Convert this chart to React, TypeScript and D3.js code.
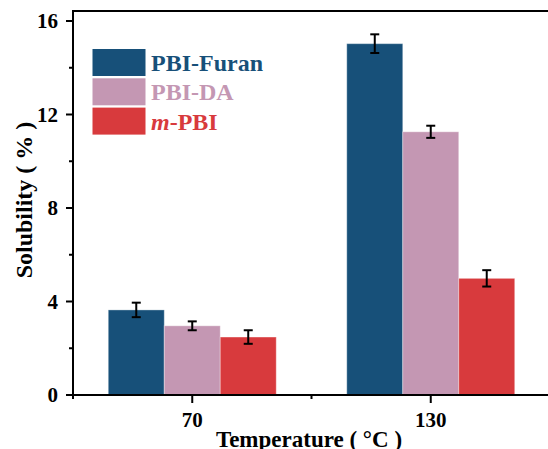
import React from "react";
import * as d3 from "d3";

// temperatures (°C) on the x axis
const temps = ["70", "130"];
const seriesNames = ["PBI-Furan", "PBI-DA", "m-PBI"];
const seriesColors = ["#175079", "#c497b3", "#d83a3d"];

// solubility (%) per temperature, one array per series
const furanVals = [3.64, 15.03];
const daVals = [2.96, 11.26];
const mpbiVals = [2.48, 4.99];

const furanErr = [0.31, 0.4];
const daErr = [0.19, 0.26];
const mpbiErr = [0.29, 0.35];

const yMajorTicks = [0, 4, 8, 12, 16];
const yMinorTicks = [2, 6, 10, 14];

const W = 548;
const H = 449;
const margin = { top: 11, left: 73, bottom: 54, right: -2 };
const font = "'Liberation Serif', 'Times New Roman', serif";

const App = () => {
  const values = [furanVals, daVals, mpbiVals];
  const errors = [furanErr, daErr, mpbiErr];

  const x0 = d3
    .scaleBand()
    .domain(temps)
    .range([margin.left, W - margin.right])
    .paddingInner(0)
    .paddingOuter(0);

  const x1 = d3
    .scaleBand()
    .domain(seriesNames)
    .range([0, x0.bandwidth()])
    .paddingInner(0)
    .paddingOuter(0.63);

  const y = d3.scaleLinear().domain([0, 16]).range([395, 21]);
  const baseY = y(0);
  const topY = margin.top;
  const rightX = W - margin.right;
  const minorX = [x0.range()[0], x0("130")!];

  return (
    <svg
      width={W}
      height={H}
      style={{ position: "absolute", left: 0, top: 0, background: "#fff" }}
      fontFamily={font}
      fontWeight="bold"
    >
      {/* bars */}
      {temps.map((t, i) => (
        <g key={t} transform={`translate(${x0(t)},0)`}>
          {seriesNames.map((s, j) => {
            const v = values[j][i];
            const e = errors[j][i];
            const bx = x1(s)!;
            const cx = bx + x1.bandwidth() / 2;
            return (
              <g key={s}>
                <rect
                  x={bx}
                  y={y(v)}
                  width={x1.bandwidth()}
                  height={baseY - y(v)}
                  fill={seriesColors[j]}
                  stroke="#ffffff"
                  strokeOpacity={0.35}
                  strokeWidth={1}
                />
                <line x1={cx} x2={cx} y1={y(v + e)} y2={y(v - e)} stroke="#000" strokeWidth={2} />
                <line x1={cx - 4.5} x2={cx + 4.5} y1={y(v + e)} y2={y(v + e)} stroke="#000" strokeWidth={2} />
                <line x1={cx - 4.5} x2={cx + 4.5} y1={y(v - e)} y2={y(v - e)} stroke="#000" strokeWidth={2} />
              </g>
            );
          })}
        </g>
      ))}

      {/* frame */}
      <line x1={margin.left} x2={margin.left} y1={topY} y2={baseY} stroke="#000" strokeWidth={2} />
      <line x1={margin.left - 1} x2={rightX} y1={baseY} y2={baseY} stroke="#000" strokeWidth={2} />
      <line x1={margin.left - 1} x2={rightX} y1={topY} y2={topY} stroke="#000" strokeWidth={2} />
      <line x1={rightX} x2={rightX} y1={topY} y2={baseY} stroke="#000" strokeWidth={2} />

      {/* y ticks */}
      {yMajorTicks.map((t) => (
        <g key={t}>
          <line x1={margin.left - 7} x2={margin.left} y1={y(t)} y2={y(t)} stroke="#000" strokeWidth={2} />
          <text x={58} y={y(t)} dy="0.35em" textAnchor="end" fontSize={21}>
            {t}
          </text>
        </g>
      ))}
      {yMinorTicks.map((t) => (
        <line key={t} x1={margin.left - 4} x2={margin.left} y1={y(t)} y2={y(t)} stroke="#000" strokeWidth={2} />
      ))}

      {/* x ticks */}
      {temps.map((t) => {
        const cx = x0(t)! + x0.bandwidth() / 2;
        return (
          <g key={t}>
            <line x1={cx} x2={cx} y1={baseY} y2={baseY + 8} stroke="#000" strokeWidth={2} />
            <text x={cx} y={427} textAnchor="middle" fontSize={21}>
              {t}
            </text>
          </g>
        );
      })}
      {minorX.map((mx, i) => (
        <line key={i} x1={mx} x2={mx} y1={baseY} y2={baseY + 4} stroke="#000" strokeWidth={2} />
      ))}

      {/* axis titles */}
      <text x={309} y={447} textAnchor="middle" fontSize={23}>
        Temperature ( °C )
      </text>
      <text
        transform={`translate(32,${(topY + baseY) / 2 - 3}) rotate(-90)`}
        textAnchor="middle"
        fontSize={24}
      >
        Solubility ( % )
      </text>

      {/* legend */}
      {seriesNames.map((s, j) => {
        const ly = 49 + j * 29.3;
        return (
          <g key={s}>
            <rect x={92.5} y={ly} width={53} height={27} fill={seriesColors[j]} />
            <text x={151} y={ly + 22} fontSize={24} fill={seriesColors[j]}>
              {s === "m-PBI" ? (
                <>
                  <tspan fontStyle="italic">m</tspan>-PBI
                </>
              ) : (
                s
              )}
            </text>
          </g>
        );
      })}
    </svg>
  );
};

export default App;
